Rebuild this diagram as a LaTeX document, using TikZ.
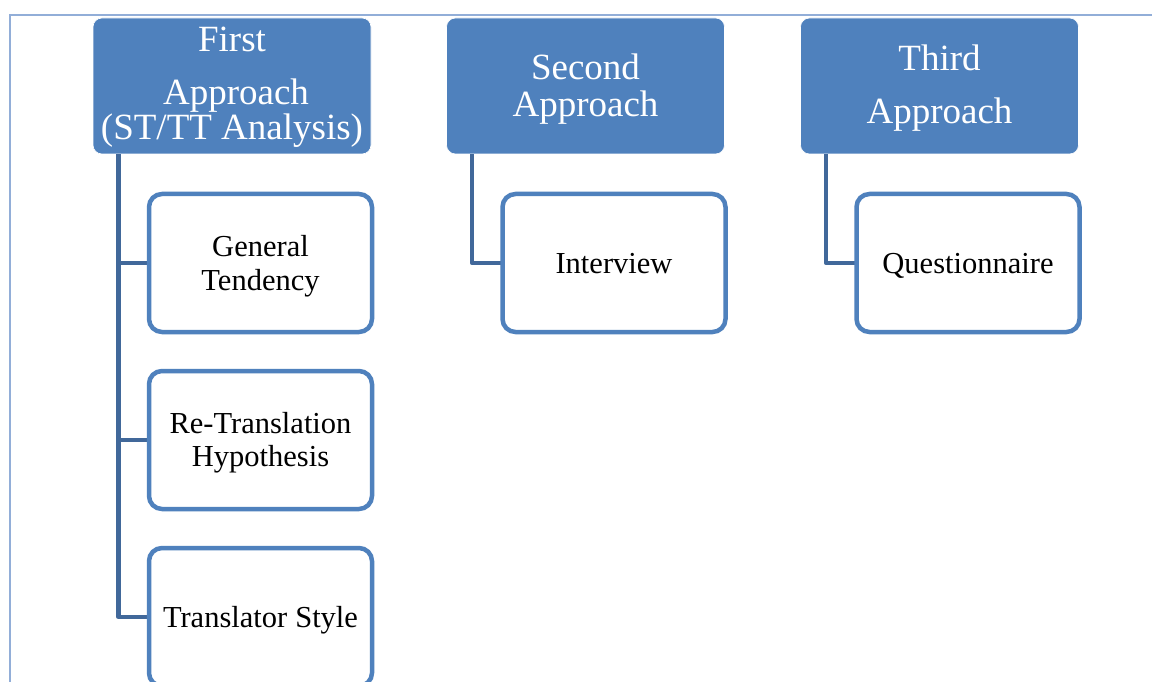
\documentclass[tikz,border=0pt]{standalone}
\usepackage{fontspec}
\setmainfont{Liberation Serif}
\definecolor{headfill}{HTML}{4F81BD}
\definecolor{boxline}{HTML}{4F81BD}
\definecolor{connline}{HTML}{41689A}
\definecolor{frameline}{HTML}{92AED8}
\tikzset{
  headbox/.style={rectangle, rounded corners=9pt, fill=headfill, draw=white, line width=0.6pt,
    minimum width=278pt, minimum height=136pt, inner sep=0pt},
  childbox/.style={rectangle, rounded corners=13pt, fill=white, draw=boxline, line width=4.5pt,
    minimum width=223pt, minimum height=138pt, inner sep=0pt},
  headtext/.style={anchor=base, text=white, inner sep=0pt, font=\fontsize{37}{37}\selectfont},
  childtext/.style={anchor=base, text=black, inner sep=0pt, font=\fontsize{30.5}{30.5}\selectfont},
  conn/.style={draw=connline, line width=4.5pt, line join=round},
}
\begin{document}
\begin{tikzpicture}[x=1pt, y=-1pt]
\useasboundingbox (0,0) rectangle (1152,682);
\clip (0,0) rectangle (1152,682);
\fill[white] (0,0) rectangle (1152,682);
% outer frame
\draw[frameline, line width=1.6pt] (9,15) -- (1152,15);
\draw[frameline, line width=1.6pt] (10,15) -- (10,682);

% approach headers
\node[headbox] (first) at (232,86) {};
\node[headbox] (second) at (585.5,86) {};
\node[headbox] (third) at (939.5,86) {};

% connectors
\draw[conn] ([xshift=26pt]first.south west) |- (148,617) coordinate (tsjoin);
\draw[conn] ([xshift=26pt]first.south west |- 0,263) -- (148,263);
\draw[conn] ([xshift=26pt]first.south west |- 0,440) -- (148,440);
\draw[conn] ([xshift=26pt]second.south west) |- (501,263) coordinate (ivjoin);
\draw[conn] ([xshift=26pt]third.south west) |- (855,263) coordinate (qujoin);

% child boxes
\node[childbox] (gt) at (260.5,263) {};
\node[childbox] (rt) at (260.5,440) {};
\node[childbox] (ts) at (260.5,617) {};
\node[childbox] (iv) at (614,263) {};
\node[childbox] (qu) at (968,263) {};

% header labels
\node[headtext] (first1) at (232,52) {First};
\node[headtext] (first2) at (236,105) {Approach};
\node[headtext] (first3) at (232,140) {(ST/TT Analysis)};
\node[headtext] (second1) at (585.5,80) {Second};
\node[headtext] (second2) at (585.5,117) {Approach};
\node[headtext] (third1) at (939.5,71) {Third};
\node[headtext] (third2) at (939.5,124) {Approach};

% child labels
\node[childtext] (gt1) at (260.5,256) {General};
\node[childtext] (gt2) at (260.5,290) {Tendency};
\node[childtext] (rt1) at (260.5,433) {Re-Translation};
\node[childtext] (rt2) at (260.5,466) {Hypothesis};
\node[childtext] (ts1) at (260.5,627) {Translator\hspace{8pt}Style};
\node[childtext] (iv1) at (614,273) {Interview};
\node[childtext] (qu1) at (968,273) {Questionnaire};
\end{tikzpicture}
\end{document}
